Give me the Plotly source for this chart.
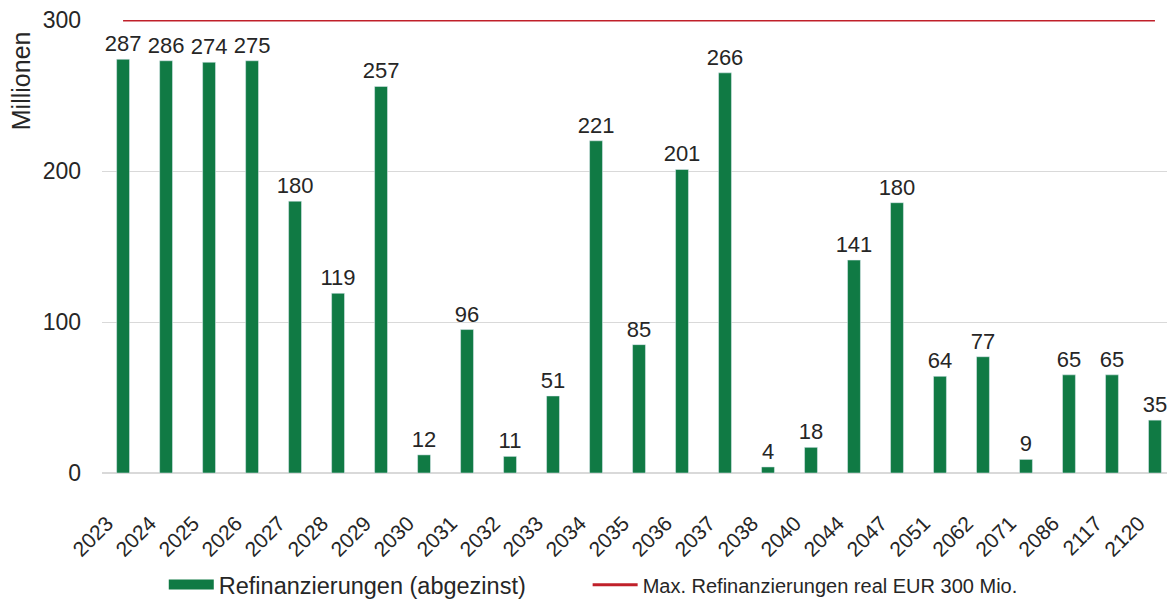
import plotly.graph_objects as go

years = ["2023", "2024", "2025", "2026", "2027", "2028", "2029", "2030", "2031", "2032",
         "2033", "2034", "2035", "2036", "2037", "2038", "2040", "2044", "2047", "2051",
         "2062", "2071", "2086", "2117", "2120"]
refin = [274, 273, 272, 273, 180, 119, 256, 12, 95, 11,
         51, 220, 85, 201, 265, 4, 17, 141, 179, 64,
         77, 9, 65, 65, 35]
labels = ["287", "286", "274", "275", "180", "119", "257", "12", "96", "11",
          "51", "221", "85", "201", "266", "4", "18", "141", "180", "64",
          "77", "9", "65", "65", "35"]
max_refin = [300] * len(years)

FONT = "Liberation Sans, Arial, sans-serif"
TXT = "#262626"
GREEN = "#107a44"
RED = "#c0202a"

fig = go.Figure()
fig.add_trace(go.Bar(
    x=years, y=refin, name="Refinanzierungen (abgezinst)",
    marker=dict(color=GREEN), showlegend=False,
    text=labels, textposition="outside", texttemplate="%{text}",
    textfont=dict(size=22, color=TXT, family=FONT),
    outsidetextfont=dict(size=22, color=TXT, family=FONT),
    constraintext="none", cliponaxis=False,
))
# legend entry styled as a wide filled block
fig.add_trace(go.Scatter(
    x=[years[0]], y=[None], name="Refinanzierungen (abgezinst)",
    mode="lines", line=dict(color=GREEN, width=13), hoverinfo="skip",
    legend="legend",
))
fig.add_trace(go.Scatter(
    x=years, y=max_refin, name="Max. Refinanzierungen real EUR 300 Mio.",
    mode="lines", line=dict(color=RED, width=3), cliponaxis=False,
    legend="legend2",
))

fig.update_layout(
    width=1167, height=601,
    margin=dict(l=102, r=0, t=20, b=128),
    plot_bgcolor="white", paper_bgcolor="white",
    font=dict(family=FONT, size=22, color=TXT),
    bargap=0.7,
    showlegend=True,
    legend=dict(orientation="h", x=0.058, xanchor="left",
                yref="container", y=0.027, yanchor="middle",
                font=dict(size=23.5, color=TXT), itemwidth=45,
                bgcolor="rgba(0,0,0,0)"),
    legend2=dict(orientation="h", x=0.456, xanchor="left",
                 yref="container", y=0.027, yanchor="middle",
                 font=dict(size=20, color=TXT), itemwidth=45,
                 bgcolor="rgba(0,0,0,0)"),
    xaxis=dict(tickangle=-45, tickfont=dict(size=21, color=TXT), showgrid=False,
               showline=False, ticks="", range=[-0.49, 24.28], automargin=False,
               ticklabelstandoff=33, ticklabelshift=-16),
    yaxis=dict(range=[0, 300], tickvals=[0, 100, 200, 300], showgrid=True,
               gridcolor="#d9d9d9", gridwidth=1, zeroline=True, zerolinecolor="#d9d9d9",
               zerolinewidth=2, automargin=False, ticklabeloverflow="allow",
               tickfont=dict(size=23, color=TXT), ticks="", ticklen=0,
               ticklabelstandoff=20),
    annotations=[dict(text="Millionen", textangle=-90, xref="paper", yref="paper",
                      x=-0.076, y=0.865, xanchor="center", yanchor="middle",
                      showarrow=False, font=dict(size=25, color=TXT))],
)

fig.write_html("out.html", config={"displayModeBar": False},
               post_script="document.body.style.margin='0';document.body.style.overflow='hidden';")
